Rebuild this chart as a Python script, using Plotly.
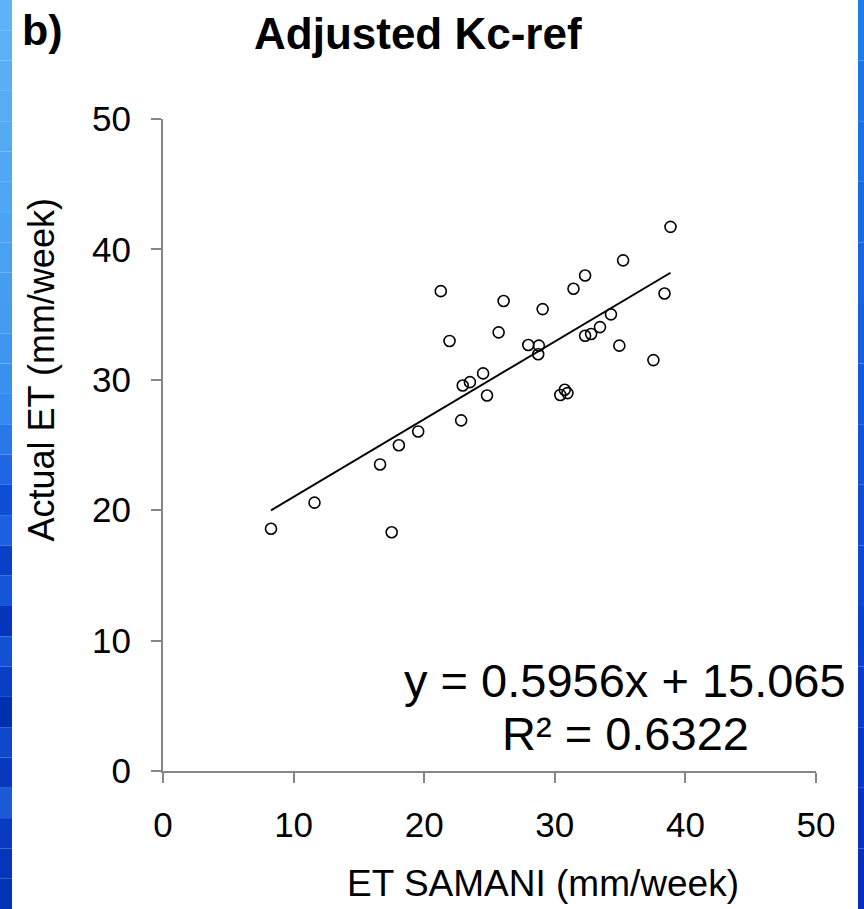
import plotly.graph_objects as go

# ---- data ----
et_samani = [8.27, 11.6, 16.62, 17.51, 18.06, 19.54, 21.27, 21.94, 22.83, 22.95, 23.5,
             24.51, 24.81, 25.7, 26.08, 27.97, 28.78, 28.73, 29.07, 30.42, 30.76, 30.97,
             31.43, 32.32, 32.32, 32.78, 33.46, 34.3, 34.94, 35.23, 37.55, 38.4, 38.86]
actual_et = [18.58, 20.58, 23.51, 18.31, 24.98, 26.04, 36.8, 32.98, 26.89, 29.56, 29.82,
             30.49, 28.8, 33.64, 36.04, 32.67, 32.62, 31.96, 35.42, 28.84, 29.24, 28.98,
             36.98, 38.0, 33.38, 33.51, 34.04, 35.02, 32.62, 39.16, 31.51, 36.62, 41.73]
slope = 0.5956
intercept = 15.065
r_squared = 0.6322
tick_vals = [0, 10, 20, 30, 40, 50]

W, H = 864, 909
ML, MR, MT, MB = 163, 48, 119, 138
PW, PH = W - ML - MR, H - MT - MB


def px(xp):
    return (xp - ML) / PW


def py(yp):
    return 1 - (yp - MT) / PH


FONT = "Liberation Sans, Arial, sans-serif"

fig = go.Figure()

x_line = [min(et_samani), max(et_samani)]
y_line = [slope * v + intercept for v in x_line]
fig.add_trace(go.Scatter(x=x_line, y=y_line, mode="lines",
                         line=dict(color="black", width=2), hoverinfo="skip"))
fig.add_trace(go.Scatter(x=et_samani, y=actual_et, mode="markers",
                         marker=dict(symbol="circle-open", size=11, color="black",
                                     line=dict(width=1.6, color="black"))))

axis_common = dict(range=[0, 50], tickvals=tick_vals, showgrid=False, zeroline=False,
                   showline=True, linecolor="#868686", linewidth=2, ticks="outside",
                   ticklen=10, tickwidth=2, tickcolor="#868686",
                   tickfont=dict(family=FONT, size=35, color="black"))
fig.update_xaxes(**axis_common, ticklabelstandoff=12)
fig.update_yaxes(**axis_common, ticklabelstandoff=13)

annotations = [
    dict(text="<b>b)</b>", x=px(20), y=py(4), xanchor="left", yanchor="top",
         font=dict(size=43)),
    dict(text="<b>Adjusted Kc-ref</b>", x=px(418), y=py(7), xanchor="center", yanchor="top",
         font=dict(size=44)),
    dict(text="ET SAMANI (mm/week)", x=px(543), y=py(906), xanchor="center", yanchor="bottom",
         font=dict(size=37)),
    dict(text="Actual ET (mm/week)", x=px(18), y=py(370), xanchor="left", yanchor="middle",
         textangle=-90, font=dict(size=36)),
    dict(text=f"y = {slope}x + {intercept}", x=px(625), y=py(652),
         xanchor="center", yanchor="top", font=dict(size=47)),
    dict(text=f"R² = {r_squared}", x=px(625), y=py(705),
         xanchor="center", yanchor="top", font=dict(size=47)),
]
for a in annotations:
    a.update(xref="paper", yref="paper", showarrow=False)
    a["font"].update(family=FONT, color="black")

# blue decorative edge strips
left_colors = ["#5CB3F7", "#5AB1F7", "#58AFF6", "#56ADF6", "#53ABF5", "#50A8F5",
               "#4EA6F4", "#4BA3F4", "#49A1F3", "#469EF3", "#439BF2", "#3F96F1",
               "#3A90EF", "#348AEE", "#2878EA", "#1E66E4", "#0E4FD6", "#1A60E0",
               "#0A40C8", "#1555D8", "#0535BC", "#1250D4", "#0A3EC6", "#0030B0",
               "#1048CC", "#0838C0", "#1A5AD8", "#0A3ABF", "#0636BA", "#0434B6"]
right_colors = ["#1F7BEA", "#1D76E8", "#1B71E6", "#196BE4", "#1765E2", "#155FE0",
                "#1359DD", "#1153DA", "#0F4DD7", "#0D47D4", "#0B41D0", "#093BCC",
                "#0836C8", "#0732C4", "#062FC0"]
shapes = []
n = len(left_colors)
for i, c in enumerate(left_colors):
    shapes.append(dict(type="rect", xref="paper", yref="paper", x0=px(0), x1=px(12),
                       y0=py(H * (i + 1) / n), y1=py(H * i / n), fillcolor=c,
                       line=dict(width=0), layer="below"))
n = len(right_colors)
for i, c in enumerate(right_colors):
    shapes.append(dict(type="rect", xref="paper", yref="paper", x0=px(858), x1=px(864),
                       y0=py(H * (i + 1) / n), y1=py(H * i / n), fillcolor=c,
                       line=dict(width=0), layer="below"))

fig.update_layout(width=W, height=H, margin=dict(l=ML, r=MR, t=MT, b=MB),
                  paper_bgcolor="white", plot_bgcolor="white", showlegend=False,
                  annotations=annotations, shapes=shapes,
                  font=dict(family=FONT, color="black"))

fig.write_html("out.html")
